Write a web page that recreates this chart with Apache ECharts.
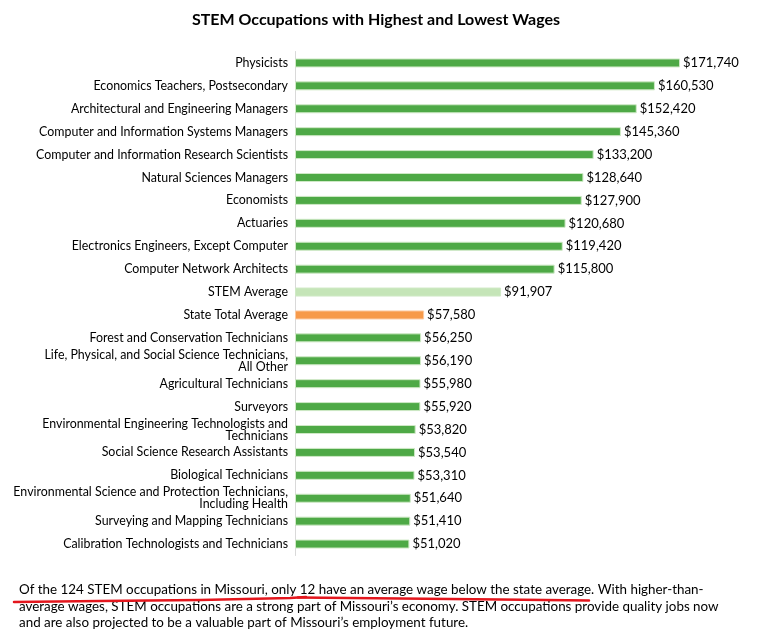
<!DOCTYPE html>
<html>
<head>
<meta charset="utf-8">
<title>STEM Occupations with Highest and Lowest Wages</title>
<script src="https://cdn.jsdelivr.net/npm/echarts@6/dist/echarts.min.js"></script>
<style>
    html, body { margin: 0; padding: 0; background: #fff; }
    #chart { width: 761px; height: 635px; }
</style>
</head>
<body>
<div id="chart"></div>
<script>
// occupations, top to bottom
var occupations = [
    'Physicists',
    'Economics Teachers, Postsecondary',
    'Architectural and Engineering Managers',
    'Computer and Information Systems Managers',
    'Computer and Information Research Scientists',
    'Natural Sciences Managers',
    'Economists',
    'Actuaries',
    'Electronics Engineers, Except Computer',
    'Computer Network Architects',
    'STEM Average',
    'State Total Average',
    'Forest and Conservation Technicians',
    'Life, Physical, and Social Science Technicians,\nAll Other',
    'Agricultural Technicians',
    'Surveyors',
    'Environmental Engineering Technologists and\nTechnicians',
    'Social Science Research Assistants',
    'Biological Technicians',
    'Environmental Science and Protection Technicians,\nIncluding Health',
    'Surveying and Mapping Technicians',
    'Calibration Technologists and Technicians'
];

// average annual wage ($)
var wages = [
    171740, 160530, 152420, 145360, 133200, 128640, 127900, 120680, 119420, 115800,
    91907, 57580,
    56250, 56190, 55980, 55920, 53820, 53540, 53310, 51640, 51410, 51020
];

var noteLines = [
    'Of the 124 STEM occupations in Missouri, only 12 have an average wage below the state average. With higher-than-',
    'average wages, STEM occupations are a strong part of Missouri\u2019s economy. STEM occupations provide quality jobs now',
    'and are also projected to be a valuable part of Missouri\u2019s employment future.'
];

var FONT = 'Lato, "Open Sans", sans-serif';

function barColor(name) {
    if (name === 'STEM Average') return '#c5e5b8';
    if (name === 'State Total Average') return '#f79a4a';
    return '#4ea946';
}

var chart = echarts.init(document.getElementById('chart'));

var barData = wages.map(function (v, i) {
    var name = occupations[i];
    return {
        value: v,
        itemStyle: {
            color: barColor(name),
            borderColor: name === 'State Total Average' ? '#fbc9a0' : '#cfe9c6',
            borderWidth: 1
        }
    };
});

var noteGraphics = noteLines.map(function (t, i) {
    return {
        type: 'text',
        left: 19,
        top: 583.5 + i * 16.5,
        style: {
            text: t,
            fill: '#000',
            font: '13.4px ' + FONT
        },
        z: 10
    };
});

// hand-drawn red underline
noteGraphics.push({
    type: 'polyline',
    shape: { points: [[14, 602], [100, 601], [200, 600], [290, 598], [306, 597]] },
    style: { stroke: '#e3161d', lineWidth: 2.5, lineCap: 'round' },
    z: 11
});
noteGraphics.push({
    type: 'polyline',
    shape: { points: [[298, 597.5], [400, 598.5], [500, 599.5], [589, 600.5]] },
    style: { stroke: '#e3161d', lineWidth: 2.5, lineCap: 'round' },
    z: 11
});

var option = {
    backgroundColor: '#fff',
    animation: false,
    title: {
        text: 'STEM Occupations with Highest and Lowest Wages',
        left: 371,
        textAlign: 'center',
        top: 7,
        textStyle: {
            fontFamily: FONT,
            fontSize: 16,
            fontWeight: 'bold',
            color: '#000'
        }
    },
    grid: {
        left: 295,
        top: 51.5,
        height: 504,
        width: 426
    },
    xAxis: {
        type: 'value',
        min: 0,
        max: 190000,
        show: false
    },
    yAxis: {
        type: 'category',
        inverse: true,
        data: occupations,
        axisLine: { show: true, lineStyle: { color: '#d9d9d9', width: 1 } },
        axisTick: { show: false },
        axisLabel: {
            color: '#000',
            fontFamily: FONT,
            fontSize: 12.4,
            lineHeight: 12,
            margin: 7,
            align: 'right'
        }
    },
    series: [{
        type: 'bar',
        data: barData,
        barWidth: 9,
        label: {
            show: true,
            position: 'right',
            distance: 3,
            color: '#000',
            fontFamily: FONT,
            fontSize: 13,
            formatter: function (p) {
                return '$' + p.value.toLocaleString('en-US');
            }
        }
    }],
    graphic: noteGraphics
};

chart.setOption(option);

window.addEventListener('resize', function () {
    chart.resize();
});
</script>
</body>
</html>
